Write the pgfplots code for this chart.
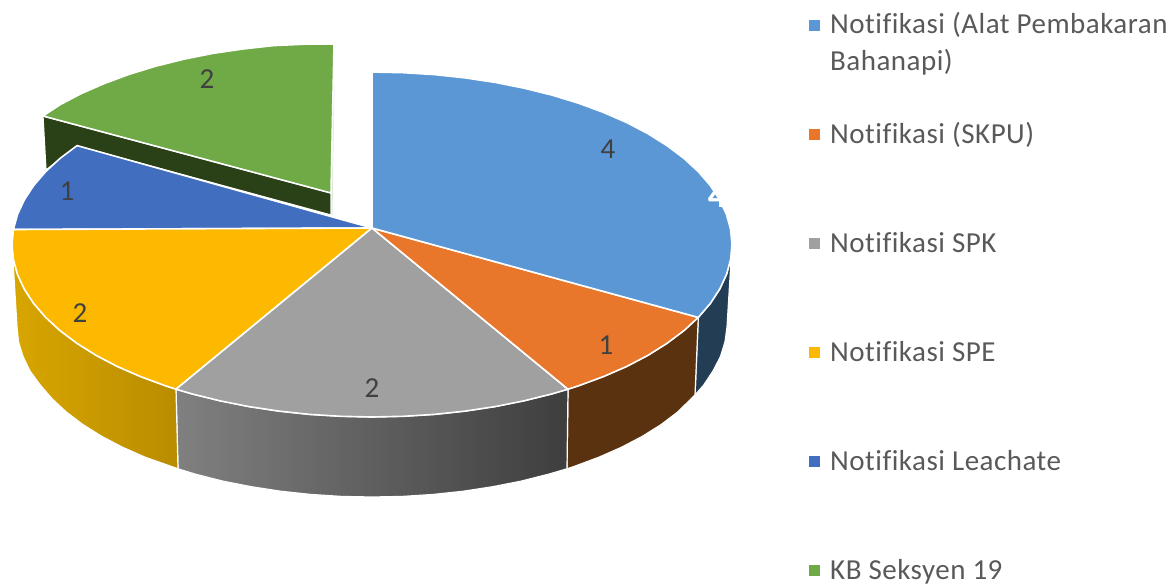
\documentclass[border=0pt]{standalone}
\usepackage{fontspec}
\setmainfont{Carlito}
\newfontfamily\legfont{Carlito}[LetterSpace=1.7,Ligatures=NoCommon]
\usepackage{pgfplots}
\pgfplotsset{compat=1.18}
\definecolor{cblue}{HTML}{5A97D4}
\definecolor{corange}{HTML}{E8772C}
\definecolor{cgray}{HTML}{A0A0A0}
\definecolor{cyellow}{HTML}{FCB900}
\definecolor{cdblue}{HTML}{416EBF}
\definecolor{cgreen}{HTML}{6FAA47}
\definecolor{sideblue}{HTML}{233D55}
\definecolor{sideorange}{HTML}{5A320F}
\definecolor{sidegreen}{HTML}{2A4016}
\definecolor{legtext}{HTML}{595959}
\definecolor{numtext}{HTML}{404040}
\tikzset{
    legtxt/.style={anchor=base west, inner sep=0pt, text=legtext, font=\fontsize{29}{34}\legfont},
    numtxt/.style={anchor=center, text=numtext, font=\fontsize{29}{34}\selectfont},
    slice/.style={draw=white, line width=1.6pt, line join=round},
    side/.style={draw=white, line width=1.2pt, line join=round},
}
\begin{document}
\begin{tikzpicture}
% hide axis leaves no box of its own, so the page size is fixed here
\path[use as bounding box] (0,0) rectangle (1172pt,584pt);
\begin{axis}[
    at={(0,0)}, anchor=south west,
    scale only axis,
    width=1172pt, height=584pt,
    xmin=0, xmax=1172, ymin=0, ymax=584,
    y dir=reverse,
    hide axis,
]
% sides of the pie
\addplot[side, fill=sideblue] coordinates {
    (732,244.5) (730.6,259.5) (726.5,274.5) (719.7,289.1) (710.3,303.5) (698.3,317.4)
    (695,395) (703.7,385.1) (713,371) (720.5,356.5) (725,341.8) (727,327)} -- cycle;
\addplot[side, fill=sideorange] coordinates {
    (698.3,317.4) (683.8,330.75) (666.9,343.4) (647.8,355.4) (626.6,366.5) (603.4,376.6) (578.5,385.8) (568,389.2)
    (567,468.8) (574.5,466.3) (598.9,457.2) (621.6,447.2) (642.4,436.3) (661.2,424.5) (677.7,412) (695,395)} -- cycle;
\addplot[side, left color={rgb,255:red,128;green,128;blue,128}, right color={rgb,255:red,62;green,62;blue,62}] coordinates {
    (568,389.2) (552,393.9) (524.1,400.8) (495.1,406.6) (465.2,411.1) (434.5,414.4) (403.4,416.3) (372,417)
    (340.6,416.3) (309.5,414.4) (278.8,411.1) (248.9,406.6) (219.9,400.8) (192,393.9) (176,389.2)
    (178,468.8) (195.5,474.2) (222.8,481.1) (251.3,486.7) (280.6,491.2) (310.7,494.4) (341.2,496.4) (372,497)
    (402.8,496.4) (433.3,494.4) (463.4,491.2) (492.7,486.7) (521.2,481.1) (548.5,474.2) (567,468.8)} -- cycle;
\addplot[side, left color={rgb,255:red,216;green,166;blue,0}, right color={rgb,255:red,185;green,140;blue,0}] coordinates {
    (176,389.2) (165.5,385.8) (140.6,376.6) (117.4,366.5) (96.2,355.4) (77.1,343.4) (60.2,330.75) (45.7,317.4)
    (33.7,303.5) (24.3,289.1) (17.5,274.5) (13.4,259.5) (12,244.5)
    (17,327) (18.5,341.8) (23,356.5) (30,371) (40.3,385.1) (52.1,398.8) (66.3,412) (82.8,424.5)
    (101.6,436.3) (122.4,447.2) (145.1,457.2) (178,468.8)} -- cycle;
% exploded slice, side then top
\addplot[draw={rgb,255:red,224;green,232;blue,220}, line width=1pt] coordinates {(334,85) (332,215)};
\addplot[side, fill=sidegreen] coordinates {
    (43,116) (331,193) (331,215) (77,146) (46,170)} -- cycle;
\addplot[slice, fill=cgreen] coordinates {
    (331,193) (43,116) (60.2,104.6) (81.4,93.5) (104.6,83.4) (129.5,74.2) (156,66.1) (183.9,59.2) (212.9,53.4)
    (242.8,49) (273.5,45.6) (304.6,44.2) (334,44)} -- cycle;
% top of the pie
\addplot[slice, fill=cdblue] coordinates {
    (372,228) (13.4,229.5) (17.5,214.5) (24.3,199.9) (33.7,185.5) (45.7,171.6) (60.2,158.25) (77.1,145.6)} -- cycle;
\addplot[slice, fill=cyellow] coordinates {
    (372,228) (176,389.2) (165.5,385.8) (140.6,376.6) (117.4,366.5) (96.2,355.4) (77.1,343.4) (60.2,330.75) (45.7,317.4)
    (33.7,303.5) (24.3,289.1) (17.5,274.5) (13.4,259.5) (12,244.5) (13.4,229.5)} -- cycle;
\addplot[slice, fill=cgray] coordinates {
    (372,228) (568,389.2) (552,393.9) (524.1,400.8) (495.1,406.6) (465.2,411.1) (434.5,414.4) (403.4,416.3) (372,417)
    (340.6,416.3) (309.5,414.4) (278.8,411.1) (248.9,406.6) (219.9,400.8) (192,393.9) (176,389.2)} -- cycle;
\addplot[slice, fill=corange] coordinates {
    (372,228) (698.3,317.4) (683.8,330.75) (666.9,343.4) (647.8,355.4) (626.6,366.5) (603.4,376.6) (578.5,385.8) (568,389.2)} -- cycle;
\addplot[slice, fill=cblue] coordinates {
    (372,228) (372,72) (403.4,72.7) (434.5,74.6) (465.2,77.9) (495.1,82.4) (524.1,88.2) (552,95.1) (578.5,103.2)
    (603.4,112.4) (626.6,122.5) (647.8,133.6) (666.9,145.6) (683.8,158.25) (698.3,171.6) (710.3,185.5) (719.7,199.9)
    (726.5,214.5) (730.6,229.5) (732,244.5) (730.6,259.5) (726.5,274.5) (719.7,289.1) (710.3,303.5) (698.3,317.4)} -- cycle;
% data labels
\node[numtxt] at (axis cs:608,149) {4};
\node[numtxt] at (axis cs:606,345) {1};
\node[numtxt] at (axis cs:372,388) {2};
\node[numtxt] at (axis cs:80,313) {2};
\node[numtxt] at (axis cs:67,191) {1};
\node[numtxt] at (axis cs:207,79) {2};
\node[anchor=center, text=white, font=\fontsize{36}{40}\selectfont\bfseries] at (axis cs:717,196) {4};
% legend
\addplot[only marks, mark=square*, mark size=5pt, cblue] coordinates {(814,25)};
\addplot[only marks, mark=square*, mark size=5pt, corange] coordinates {(814,134)};
\addplot[only marks, mark=square*, mark size=5pt, cgray] coordinates {(814,243)};
\addplot[only marks, mark=square*, mark size=5pt, cyellow] coordinates {(814,352)};
\addplot[only marks, mark=square*, mark size=5pt, cdblue] coordinates {(814,461)};
\addplot[only marks, mark=square*, mark size=5pt, cgreen] coordinates {(814,570)};
\node[legtxt] at (axis cs:830,33) {Notifikasi (Alat Pembakaran};
\node[legtxt] at (axis cs:830,70) {Bahanapi)};
\node[legtxt] at (axis cs:830,143) {Notifikasi (SKPU)};
\node[legtxt] at (axis cs:830,252) {Notifikasi SPK};
\node[legtxt] at (axis cs:830,361) {Notifikasi SPE};
\node[legtxt] at (axis cs:830,470) {Notifikasi Leachate};
\node[legtxt] at (axis cs:830,579) {KB Seksyen 19};
\end{axis}
\end{tikzpicture}
\end{document}
